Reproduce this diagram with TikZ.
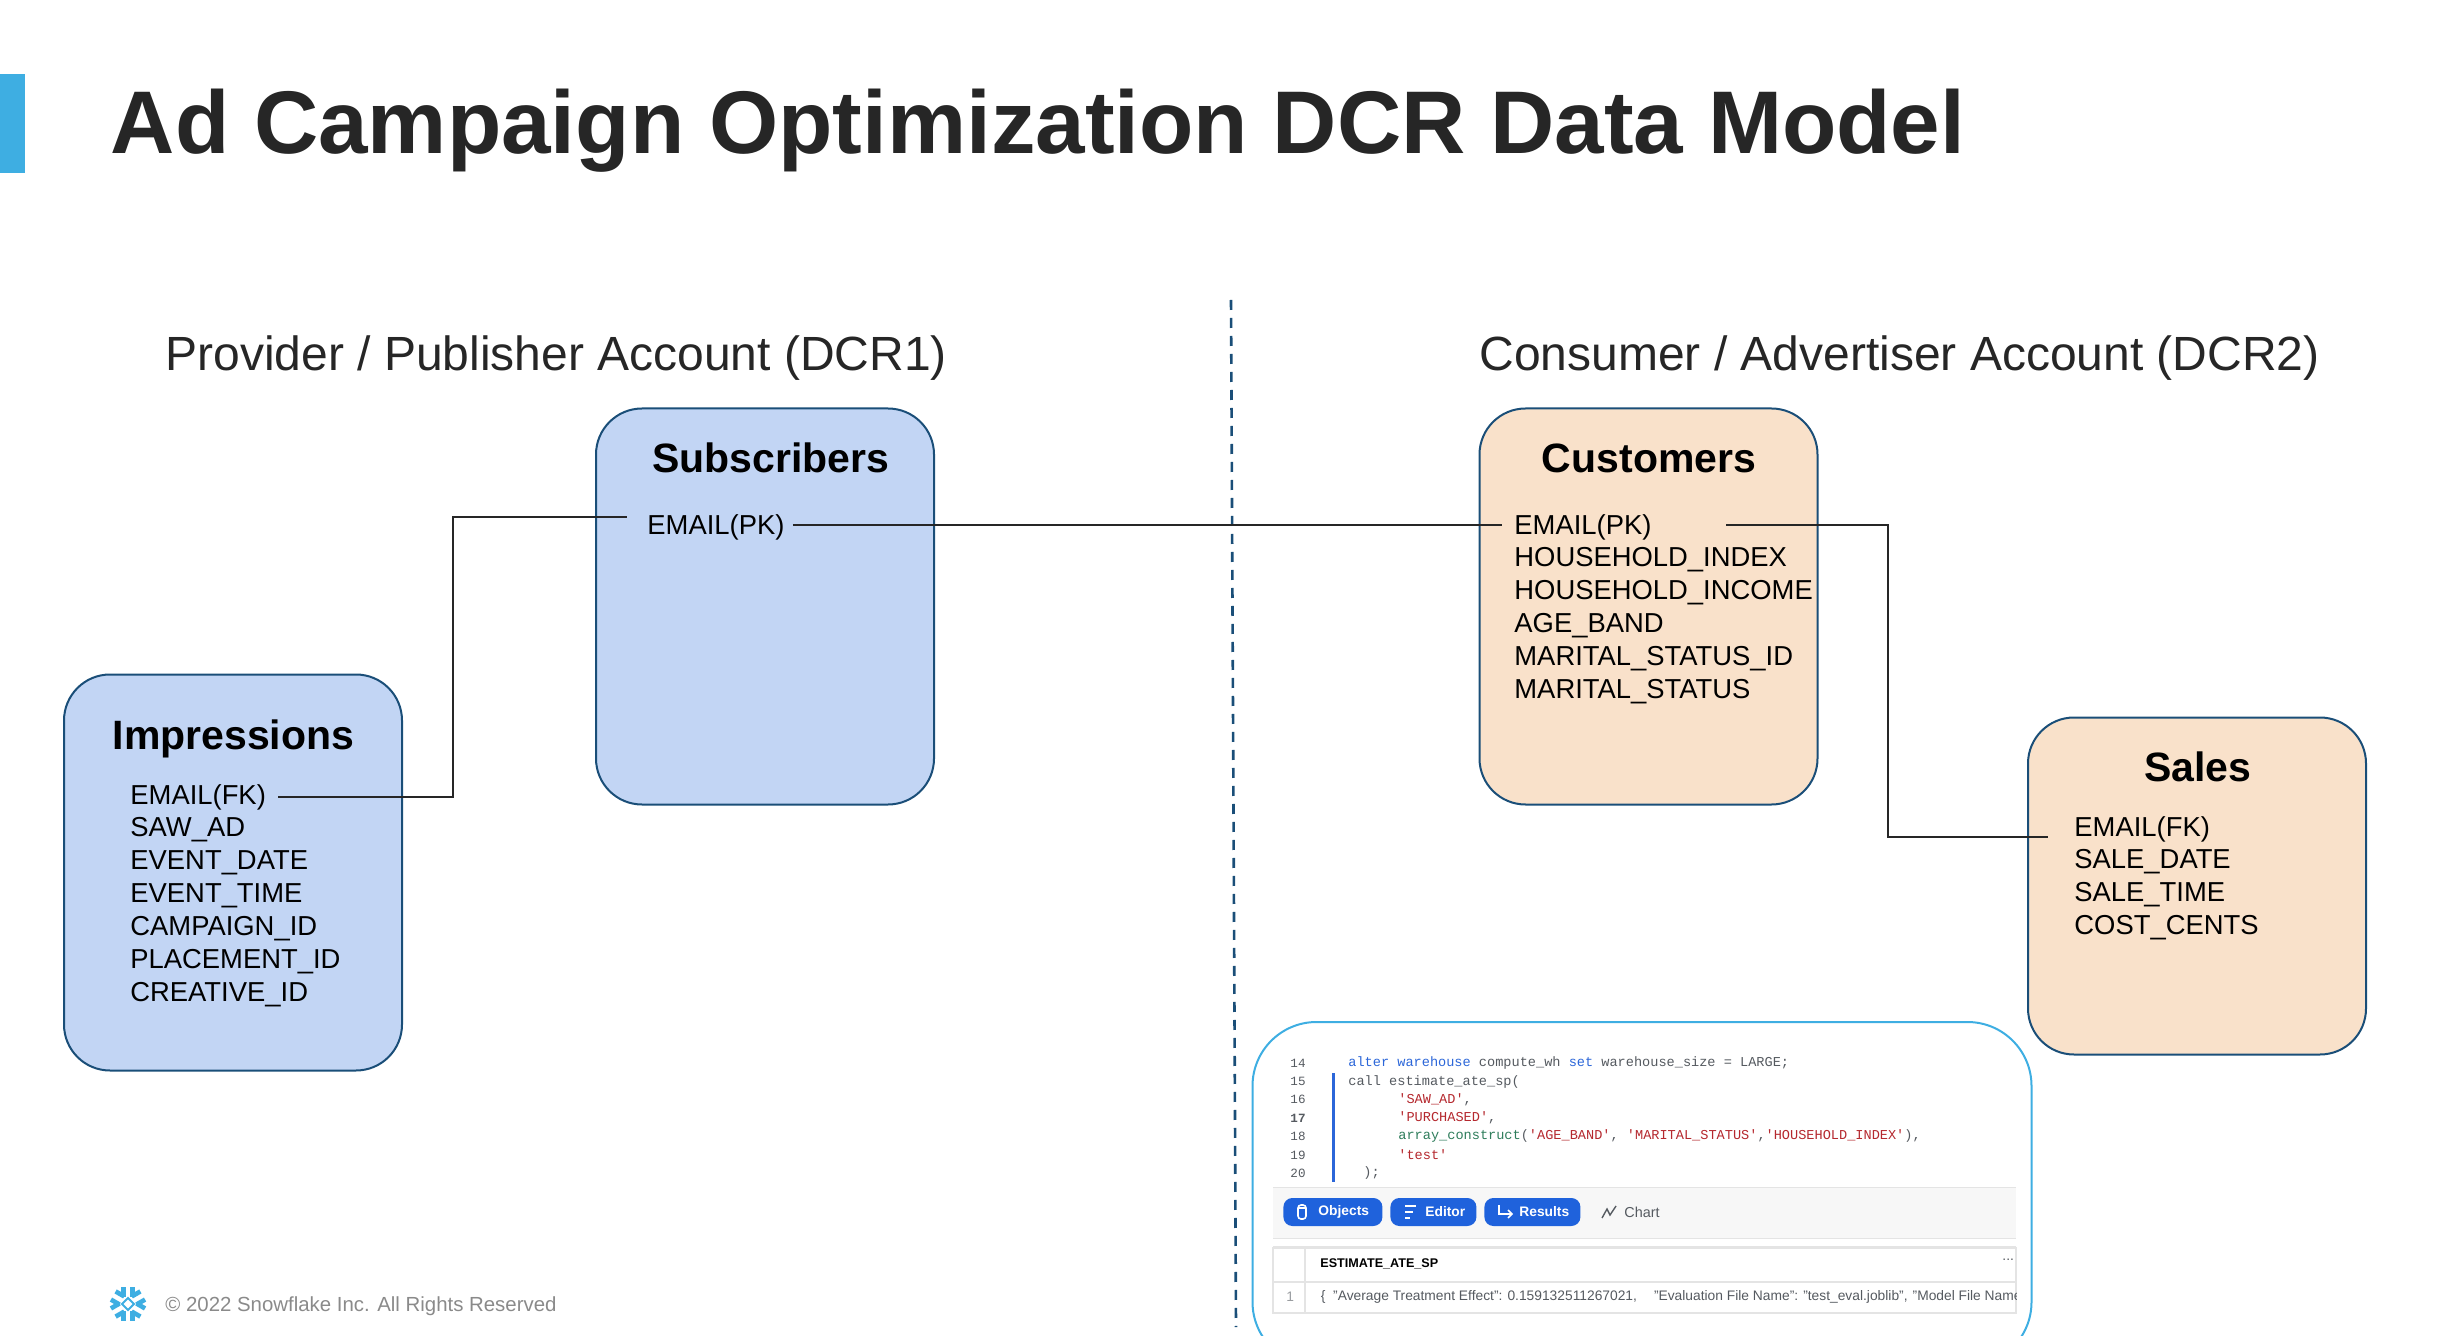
\documentclass[tikz,border=0pt]{standalone}
\usepackage{fontspec}
\setmainfont{Liberation Sans}
\setmonofont{Liberation Mono}
\usetikzlibrary{positioning,calc}

\definecolor{barCyan}{HTML}{3EAEE2}
\definecolor{titleInk}{HTML}{262626}
\definecolor{tableBlue}{HTML}{C2D5F4}
\definecolor{tablePeach}{HTML}{F9E1CA}
\definecolor{tableEdge}{HTML}{1A4E78}
\definecolor{footGrey}{HTML}{8A8A8A}
\definecolor{btnBlue}{HTML}{1F62DC}
\definecolor{kwBlue}{HTML}{2B66D9}
\definecolor{strRed}{HTML}{B5282E}
\definecolor{fnGreen}{HTML}{2E7D5B}
\definecolor{codeGrey}{HTML}{555A60}
\definecolor{stripGrey}{HTML}{F7F7F7}
\definecolor{ruleGrey}{HTML}{E4E4E4}

\tikzset{
	tablebox/.style={draw=tableEdge, line width=1pt, rounded corners=23pt, minimum width=169pt, minimum height=198pt, inner sep=0pt},
	heading/.style={font=\fontsize{20.5}{24}\selectfont\bfseries, text=black, inner sep=0pt},
	field/.style={font=\fontsize{13.7}{16}\selectfont, text=black, anchor=west, inner xsep=6pt, inner ysep=0pt},
	account/.style={font=\fontsize{24}{28}\selectfont, text=titleInk, anchor=west, inner sep=0pt},
	link/.style={draw=titleInk, line width=1pt},
	codeline/.style={font=\fontsize{6.8}{8}\ttfamily, text=codeGrey, anchor=west, inner sep=0pt},
	lineno/.style={font=\fontsize{6.3}{8}\ttfamily, text=codeGrey, anchor=center, inner sep=0pt},
	btn/.style={fill=btnBlue, rounded corners=4.5pt, minimum height=14pt, inner sep=0pt, anchor=west},
	btntext/.style={font=\fontsize{6.9}{8}\selectfont\bfseries, text=white, anchor=west, inner sep=0pt},
	shottext/.style={font=\fontsize{6.9}{8}\selectfont, text=codeGrey, anchor=west, inner sep=0pt},
}

\begin{document}
\begin{tikzpicture}[x=0.5pt, y=-0.5pt]
	
	\useasboundingbox (0,0) rectangle (2452,1336);
	
	\def \rowh {33} % row height of the field lists
	
	\fill[barCyan] (0,74) rectangle (25,173);
	\node[font=\fontsize{44.5}{52}\selectfont\bfseries, text=titleInk, anchor=west, inner sep=0pt] (title) at (110.5,131) {Ad Campaign Optimization DCR Data Model};
	
	\node[account] (provider) at (165,358.5) {Provider / Publisher Account (DCR1)};
	\node[account] (consumer) at (1479,358.5) {Consumer / Advertiser Account (DCR2)};
	
	% divider
	\coordinate (divTop) at (1231,300);
	\coordinate (divEnd) at (1236,1327);
	\draw[tableEdge, line width=1.3pt, dash pattern=on 5pt off 4pt] (divTop) -- (divEnd);
	
	% tables
	\node[tablebox, fill=tableBlue] (impressions) at (233,872.5) {};
	\node[tablebox, fill=tableBlue] (subscribers) at (765,606.5) {};
	\node[tablebox, fill=tablePeach] (customers) at (1648.5,606.5) {};
	\node[tablebox, fill=tablePeach, minimum height=168.5pt] (sales) at (2197,886) {};
	
	\node[heading] (impTitle) at (233.5,739) {Impressions};
	\node[heading] (subTitle) at (771,458) {Subscribers};
	\node[heading] (custTitle) at (1649,458) {Customers};
	\node[heading] (salesTitle) at (2198,767) {Sales};
	
	\foreach \f [count=\s from 0] in {EMAIL(FK),SAW\_AD,EVENT\_DATE,EVENT\_TIME,CAMPAIGN\_ID,PLACEMENT\_ID,CREATIVE\_ID}
	{
		\node[field] (imp\s) at (118,{797+\rowh*\s}) {\f};
	}
	\node[field, inner xsep=4pt] (sub0) at (639,527) {EMAIL(PK)};
	\foreach \f [count=\s from 0] in {EMAIL(PK),HOUSEHOLD\_INDEX,HOUSEHOLD\_INCOME,AGE\_BAND,MARITAL\_STATUS\_ID,MARITAL\_STATUS}
	{
		\node[field] (cust\s) at (1502,{527+\rowh*\s}) {\f};
	}
	\foreach \f [count=\s from 0] in {EMAIL(FK),SALE\_DATE,SALE\_TIME,COST\_CENTS}
	{
		\node[field] (sale\s) at (2062,{829+\rowh*\s}) {\f};
	}
	
	% connectors
	\coordinate (subKnee) at (452.5,517);
	\coordinate (subIn) at (627,517);
	\coordinate (custOut) at (1726,525);
	\coordinate (saleKnee) at (1887.5,837);
	\coordinate (saleIn) at (2048,837);
	\draw[link] (imp0.east) -| (subKnee) -- (subIn);
	\draw[link] ([yshift=1pt]sub0.east) -- ([yshift=1pt]cust0.west);
	\draw[link] (custOut) -| (saleKnee) -- (saleIn);
	
	% query screenshot
	\node[draw=barCyan, line width=1pt, fill=white, rounded corners=32pt, minimum width=389.5pt, minimum height=172pt, inner sep=0pt] (shot) at (1642,1194) {};
	
	\foreach \n [count=\s from 0] in {14,15,16,\textbf{17},18,19,20}
	{
		\node[lineno] (no\s) at (1298,{1063+18.4*\s}) {\n};
	}
	\fill[kwBlue] (1332,1073) rectangle (1335,1182);
	\node[codeline] (code0) at (1348,1063) {\textcolor{kwBlue}{alter warehouse} compute\_wh \textcolor{kwBlue}{set} warehouse\_size = LARGE;};
	\node[codeline] (code1) at (1348,1081.5) {call estimate\_ate\_sp(};
	\node[codeline] (code2) at (1398,1099.5) {\textcolor{strRed}{'SAW\_AD'},};
	\node[codeline] (code3) at (1398,1118) {\textcolor{strRed}{'PURCHASED'},};
	\node[codeline] (code4) at (1398,1136) {\textcolor{fnGreen}{array\_construct}(\textcolor{strRed}{'AGE\_BAND'}, \textcolor{strRed}{'MARITAL\_STATUS'},\textcolor{strRed}{'HOUSEHOLD\_INDEX'}),};
	\node[codeline] (code5) at (1398,1154.5) {\textcolor{strRed}{'test'}};
	\node[codeline] (code6) at (1363,1173) {);};
	
	\fill[stripGrey] (1273,1187) rectangle (2016,1238);
	\draw[ruleGrey] (1273,1187) -- (2016,1187);
	\draw[ruleGrey] (1273,1238) -- (2016,1238);
	
	\node[btn, minimum width=49.5pt] (objects) at (1283,1212) {};
	\node[btn, minimum width=43pt] (editor) at (1390,1212) {};
	\node[btn, minimum width=48pt] (results) at (1484,1212) {};
	\node[btntext] (objectsText) at (1318,1212) {Objects};
	\node[btntext] (editorText) at (1425,1212) {Editor};
	\node[btntext] (resultsText) at (1519,1212) {Results};
	\node[shottext, font=\fontsize{7.2}{8}\selectfont] (chartText) at (1624,1212) {Chart};
	
	% little icons
	\draw[white, line width=0.8pt, rounded corners=1.5pt] (1298,1205) rectangle (1306,1219);
	\draw[white, line width=0.6pt] (1298,1208) -- (1306,1208);
	\draw[white, line width=1pt] (1405,1206) -- (1416,1206) (1405,1212) -- (1413,1212) (1405,1218) -- (1410,1218);
	\draw[white, line width=0.8pt] (1499,1205) -- (1499,1214) -- (1512,1214) (1508,1210) -- (1512,1214) -- (1508,1218);
	\draw[codeGrey, line width=0.7pt] (1602,1218) -- (1607,1209) -- (1610,1215) -- (1616,1206);
	
	% result table
	\fill[ruleGrey] (1273,1246) rectangle (2016,1249);
	\draw[ruleGrey, line width=0.7pt] (1273,1248) rectangle (2016,1313);
	\draw[ruleGrey, line width=0.7pt] (1273,1282) -- (2016,1282);
	\draw[ruleGrey, line width=0.7pt] (1305,1248) -- (1305,1313);
	\node[btntext, text=black, font=\fontsize{6.3}{8}\selectfont\bfseries] (resName) at (1320,1264) {ESTIMATE\_ATE\_SP};
	\node[shottext] (resDots) at (2002,1260) {...};
	\node[shottext, text=codeGrey!60] (resNo) at (1286,1297) {1};
	\begin{scope}
		\clip (1313,1284) rectangle (2016,1312);
		\node[shottext] (resRow) at (1320.5,1297) {\{\ \ "Average Treatment Effect": 0.159132511267021,\ \ \hspace{4.7pt}"Evaluation File Name": "test\_eval.joblib",\ \ \hspace{-1.3pt}"Model File Name": "test\_model.joblib"};
	\end{scope}
	
	% footer
	\foreach \a in {90,150,210,270,330,30}
	{
		\begin{scope}[shift={(128,1304)}, rotate=\a]
			\draw[barCyan, line width=2.3pt] (7,-4.7) -- (17,-4.7);
			\draw[barCyan, line width=2.3pt] (7,4.7) -- (17,4.7);
		\end{scope}
	}
	\draw[barCyan, line width=1pt] (128,1298) -- (134,1304) -- (128,1310) -- (122,1304) -- cycle;
	\node[font=\fontsize{10.2}{12}\selectfont, text=footGrey, anchor=west, inner sep=0pt] (footer) at (165,1306) {© 2022 Snowflake Inc. All Rights Reserved};
	
\end{tikzpicture}
\end{document}
